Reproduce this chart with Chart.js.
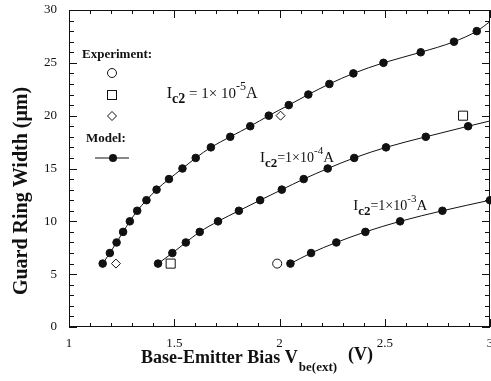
<!DOCTYPE html>
<html lang="en">
<head>
    <meta charset="UTF-8">
    <title>Guard Ring Width vs Base-Emitter Bias</title>
    <script src="https://cdn.jsdelivr.net/npm/chart.js@4.4.3/dist/chart.umd.min.js"></script>
    <style>
        html, body { margin: 0; padding: 0; background: #fff; }
        #wrap { width: 491px; height: 381px; position: relative; }
    </style>
</head>
<body>
<div id="wrap"><canvas id="guard-ring-chart"></canvas></div>
<script>
// Model curves (last point of the first two is only where the line leaves the frame)
const model5X = [1.16, 1.194, 1.226, 1.257, 1.289, 1.324, 1.368, 1.416, 1.475, 1.539, 1.602, 1.674, 1.766, 1.861, 1.949, 2.044, 2.137, 2.237, 2.351, 2.494, 2.671, 2.829, 2.937, 3.0];
const model5Y = [6, 7, 8, 9, 10, 11, 12, 13, 14, 15, 16, 17, 18, 19, 20, 21, 22, 23, 24, 25, 26, 27, 28, 28.9];
const model4X = [1.423, 1.491, 1.555, 1.621, 1.708, 1.807, 1.908, 2.011, 2.115, 2.229, 2.355, 2.506, 2.695, 2.896, 3.0];
const model4Y = [6, 7, 8, 9, 10, 11, 12, 13, 14, 15, 16, 17, 18, 19, 19.5];
const model3X = [2.052, 2.15, 2.27, 2.408, 2.573, 2.774, 3.0];
const model3Y = [6, 7, 8, 9, 10, 11, 12];

// Experiment points
const circleX = [1.989];
const circleY = [6];
const squareX = [1.483, 2.872];
const squareY = [6, 20];
const diamondX = [1.223, 2.005];
const diamondY = [6, 20];

// Axes
const xTicks = [1, 1.5, 2, 2.5, 3];
const xTickLabels = ['1', '1.5', '2', '2.5', '3'];
const yTicks = [0, 5, 10, 15, 20, 25, 30];
const yTickLabels = ['0', '5', '10', '15', '20', '25', '30'];

const SERIF = '"Liberation Serif", "DejaVu Serif", serif';
const INK = '#111';

function pts(xs, ys) {
    return xs.map((x, i) => ({ x: x, y: ys[i] }));
}

// draws a line of text made of pieces (for sub/superscripts)
function drawRich(ctx, x, y, parts, align) {
    let total = 0;
    parts.forEach(p => { ctx.font = p.font; total += ctx.measureText(p.t).width + (p.dx || 0); });
    let cx = align === 'center' ? x - total / 2 : x;
    parts.forEach(p => {
        ctx.font = p.font;
        cx += p.dx || 0;
        ctx.fillText(p.t, cx, y + (p.dy || 0));
        cx += ctx.measureText(p.t).width;
    });
}

// the first label is set a little wider than the other two
function currentLabel(exp, wide) {
    const s = wide ? 1 : 0;
    return [
        { t: 'I', font: (15 + s) + 'px ' + SERIF },
        { t: 'c2', font: 'bold ' + (13 + s) + 'px ' + SERIF, dy: 5 },
        { t: wide ? ' = 1× 10' : '=1×10', font: (14 + s) + 'px ' + SERIF },
        { t: exp, font: (11 + s) + 'px ' + SERIF, dy: -8 },
        { t: 'A', font: (15 + s) + 'px ' + SERIF }
    ];
}

const framePlugin = {
    id: 'frame',
    afterDatasetsDraw(chart) {
        const { ctx, chartArea: a, scales: { x, y } } = chart;
        ctx.save();
        ctx.strokeStyle = INK;
        ctx.lineWidth = 1;
        ctx.strokeRect(a.left + 0.5, a.top + 0.5, a.right - a.left - 1, a.bottom - a.top - 1);

        ctx.beginPath();
        // x ticks every 0.1, longer on labelled values
        for (let k = 10; k <= 30; k++) {
            const v = k / 10;
            const px = Math.round(x.getPixelForValue(v)) + 0.5;
            const len = k % 5 === 0 ? 8 : 4;
            ctx.moveTo(px, a.bottom); ctx.lineTo(px, a.bottom - len);
            ctx.moveTo(px, a.top); ctx.lineTo(px, a.top + len);
        }
        // y ticks every 1, longer on labelled values
        for (let v = 0; v <= 30; v++) {
            const py = Math.round(y.getPixelForValue(v)) + 0.5;
            const len = v % 5 === 0 ? 8 : 5;
            ctx.moveTo(a.left, py); ctx.lineTo(a.left + len, py);
            ctx.moveTo(a.right, py); ctx.lineTo(a.right - len, py);
        }
        ctx.stroke();

        ctx.fillStyle = INK;
        ctx.textBaseline = 'alphabetic';
        ctx.textAlign = 'left';

        // legend block
        ctx.font = 'bold 13px ' + SERIF;
        ctx.fillText('Experiment:', 82, 58);
        ctx.fillText('Model:', 86, 142);
        ctx.beginPath();
        ctx.arc(112, 73, 4.5, 0, Math.PI * 2);
        ctx.stroke();
        ctx.strokeRect(107.5, 90.5, 9, 9);
        ctx.beginPath();
        ctx.moveTo(112, 111.5); ctx.lineTo(116.5, 116); ctx.lineTo(112, 120.5); ctx.lineTo(107.5, 116);
        ctx.closePath();
        ctx.stroke();
        ctx.beginPath();
        ctx.moveTo(95, 158); ctx.lineTo(129, 158);
        ctx.stroke();
        ctx.beginPath();
        ctx.arc(113, 158, 4, 0, Math.PI * 2);
        ctx.fill();

        // curve labels
        drawRich(ctx, x.getPixelForValue(1.464), y.getPixelForValue(21.7), currentLabel('-5', true));
        drawRich(ctx, x.getPixelForValue(1.907), y.getPixelForValue(15.6), currentLabel('-4', false));
        drawRich(ctx, x.getPixelForValue(2.350), y.getPixelForValue(11.1), currentLabel('-3', false));

        // axis titles
        drawRich(ctx, 257, 363, [
            { t: 'Base-Emitter Bias V', font: 'bold 18px ' + SERIF },
            { t: 'be(ext)', font: 'bold 13px ' + SERIF, dy: 8, dx: 1 },
            { t: '(V)', font: 'bold 18px ' + SERIF, dy: -3, dx: 11 }
        ], 'center');
        ctx.save();
        ctx.translate(27, 191);
        ctx.rotate(-Math.PI / 2);
        ctx.textAlign = 'center';
        ctx.font = 'bold 20px ' + SERIF;
        ctx.fillText('Guard Ring Width (\u03bcm)', 0, 0);
        ctx.restore();

        ctx.restore();
    }
};

function modelSet(xs, ys, hideLast) {
    return {
        data: pts(xs, ys),
        showLine: true,
        borderColor: INK,
        borderWidth: 1,
        backgroundColor: INK,
        pointBackgroundColor: INK,
        pointBorderColor: INK,
        pointRadius: xs.map((_, i) => (hideLast && i === xs.length - 1 ? 0 : 3.8)),
        cubicInterpolationMode: 'monotone',
        clip: false
    };
}

function expSet(xs, ys, style, r) {
    return {
        data: pts(xs, ys),
        showLine: false,
        pointStyle: style,
        pointRadius: r,
        borderColor: INK,
        borderWidth: 1,
        pointBackgroundColor: 'rgba(0,0,0,0)'
    };
}

new Chart(document.getElementById('guard-ring-chart'), {
    type: 'scatter',
    data: {
        datasets: [
            modelSet(model5X, model5Y, true),
            modelSet(model4X, model4Y, true),
            modelSet(model3X, model3Y, false),
            expSet(circleX, circleY, 'circle', 4.5),
            expSet(squareX, squareY, 'rect', 6.4),
            expSet(diamondX, diamondY, 'rectRot', 4.5)
        ]
    },
    options: {
        responsive: true,
        maintainAspectRatio: false,
        animation: false,
        layout: { autoPadding: false, padding: { top: 10, right: 1, left: 0, bottom: 0 } },
        plugins: { legend: { display: false }, tooltip: { enabled: false } },
        scales: {
            x: {
                type: 'linear',
                min: 1, max: 3,
                grid: { display: false, drawTicks: false },
                border: { display: false },
                afterBuildTicks: s => { s.ticks = xTicks.map(v => ({ value: v })); },
                afterFit: s => { s.height = 54; s.paddingLeft = 0; s.paddingRight = 0; },
                ticks: {
                    padding: 9,
                    maxRotation: 0,
                    color: INK,
                    font: { family: SERIF, size: 13 },
                    callback: (v, i) => xTickLabels[i]
                }
            },
            y: {
                type: 'linear',
                min: 0, max: 30,
                grid: { display: false, drawTicks: false },
                border: { display: false },
                afterBuildTicks: s => { s.ticks = yTicks.map(v => ({ value: v })); },
                afterFit: s => { s.width = 69; s.paddingTop = 0; s.paddingBottom = 0; },
                ticks: {
                    padding: 12,
                    color: INK,
                    font: { family: SERIF, size: 13 },
                    callback: (v, i) => yTickLabels[i]
                }
            }
        }
    },
    plugins: [framePlugin]
});
</script>
</body>
</html>
